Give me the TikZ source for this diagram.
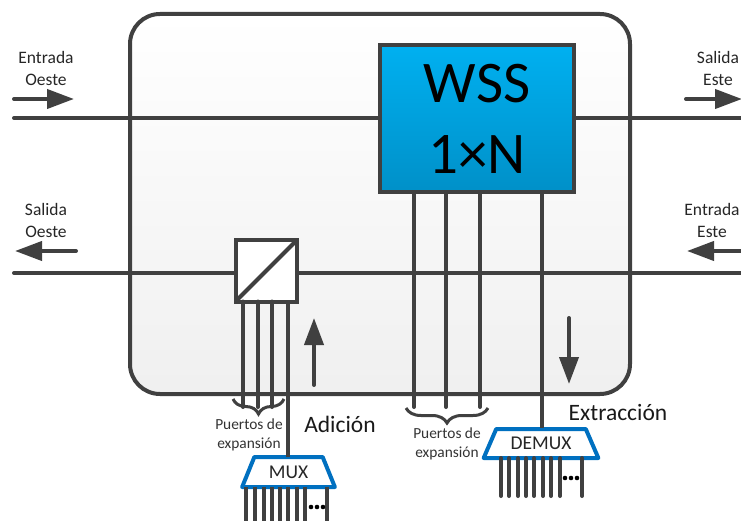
\documentclass[tikz,border=0pt]{standalone}
\usepackage{fontspec}
\setmainfont{Carlito}
\usepackage{tikz}
\usetikzlibrary{arrows.meta,positioning,shapes.geometric,decorations.pathreplacing,shadows}
\definecolor{mygray}{RGB}{64,64,64}
\definecolor{myblue}{RGB}{0,112,192}
\definecolor{myWssTop}{RGB}{0,176,240}
\definecolor{myWssBot}{RGB}{0,144,200}
\tikzstyle{line}=[draw=mygray,line width=4pt]
\tikzstyle{thinline}=[draw=mygray,line width=4pt]
\tikzstyle{nodo}=[draw=mygray,line width=4pt,rounded corners=30pt,top color=white,bottom color=black!6,minimum width=500pt,minimum height=380pt,inner sep=0pt,outer sep=0pt]
\tikzstyle{wssbox}=[draw=mygray,line width=4pt,top color=myWssTop,bottom color=myWssBot,minimum width=194pt,minimum height=147pt,inner sep=0pt,outer sep=0pt,align=center,font=\fontsize{59}{71}\selectfont,drop shadow={opacity=.2,shadow xshift=2pt,shadow yshift=-2pt}]
\tikzstyle{splitbox}=[draw=mygray,line width=4pt,fill=white,minimum size=61pt,inner sep=0pt,outer sep=0pt]
\tikzstyle{muxbox}=[draw=myblue,line width=4pt,line join=round,fill=white,trapezium,trapezium stretches,inner sep=0pt,outer sep=0pt,text=black!85,font=\fontsize{19.5}{22}\selectfont]
\tikzstyle{flow}=[draw=mygray,line width=4pt,line cap=round,-{Triangle[length=27pt,width=19pt,fill=mygray]}]
\tikzstyle{brace}=[draw=mygray,line width=3pt,decorate,decoration={brace,amplitude=15pt}]
\tikzstyle{small}=[text=black!80,align=center,font=\fontsize{15.4}{19}\selectfont,inner sep=0pt]
\tikzstyle{side}=[text=black!85,align=center,font=\fontsize{17.5}{22}\selectfont,inner sep=0pt]
\tikzstyle{big}=[text=black!90,inner sep=0pt,font=\fontsize{23.5}{25}\selectfont]
\tikzstyle{dot}=[fill=black,circle,minimum size=4.6pt,inner sep=0pt]

\begin{document}
\begin{tikzpicture}[x=1pt,y=-1pt]
\clip (0,0) rectangle (741,521);
\node [nodo] (node) at (380,204) {};
\node [wssbox] (wss) at (477,119) {WSS\\1×N};
\node [splitbox] (split) at (266,271) {};
\node [muxbox,trapezium left angle=61,trapezium right angle=61,minimum width=93pt,minimum height=30pt] (mux) at (288.5,472) {MUX};
\node [muxbox,trapezium left angle=56,trapezium right angle=56,minimum width=115pt,minimum height=29pt] (demux) at (541,443.5) {DEMUX};
% free ends
\coordinate (oeste1) at (14,118);
\coordinate (este1) at (741,118);
\coordinate (oeste2) at (14,273);
\coordinate (este2) at (741,273);
% main lines
\draw [line,line cap=round] (oeste1) -- (oeste1 -| wss.west);
\draw [line] (este1 -| wss.east) -- (este1);
\draw [line,line cap=round] (oeste2) -- (oeste2 -| split.west);
\draw [line] (este2 -| split.east) -- (este2);
\draw [line] (split.south west) -- (split.north east);
% add and drop ports
\foreach \x in {243,258,272} {
  \coordinate (p\x) at (\x,407);
  \draw [thinline,line cap=round] (split.south -| p\x) -- (p\x);
}
\coordinate (padd) at (288,457);
\draw [thinline] (split.south -| padd) -- (padd);
\foreach \x in {414,446,480} {
  \coordinate (w\x) at (\x,407);
  \draw [thinline,line cap=round] (wss.south -| w\x) -- (w\x);
}
\coordinate (wdrop) at (542,428);
\draw [thinline] (wss.south -| wdrop) -- (wdrop);
% client ports
\foreach \x in {246,255,264,272,280,288,297,305,327} {
  \coordinate (m\x) at (\x,521);
  \draw [thinline] (mux.south -| m\x) -- (m\x);
}
\foreach \x in {501,509,518,526,534,543,551,560,582} {
  \coordinate (d\x) at (\x,496);
  \draw [thinline,line cap=round] (demux.south -| d\x) -- (d\x);
}
\foreach \x in {311,317,323} {
  \node [dot] (mdot\x) at (\x,507) {};
}
\foreach \x in {565,571,577} {
  \node [dot] (ddot\x) at (\x,478) {};
}
% braces
\coordinate (b1a) at (233,399);
\coordinate (b1b) at (284,399);
\coordinate (b2a) at (406,408);
\coordinate (b2b) at (488,408);
\draw [brace] (b1b) -- (b1a);
\draw [brace] (b2b) -- (b2a);
% arrows
\coordinate (a1) at (14,99);
\coordinate (a2) at (74,99);
\coordinate (a3) at (76,251);
\coordinate (a4) at (15,251);
\coordinate (a5) at (686,99);
\coordinate (a6) at (742,99);
\coordinate (a7) at (742,251);
\coordinate (a8) at (687,251);
\coordinate (a9) at (314,385);
\coordinate (a10) at (314,318);
\coordinate (a11) at (569,318);
\coordinate (a12) at (569,384);
\draw [flow] (a1) -- (a2);
\draw [flow] (a3) -- (a4);
\draw [flow] (a5) -- (a6);
\draw [flow] (a7) -- (a8);
\draw [flow] (a9) -- (a10);
\draw [flow] (a11) -- (a12);
% labels
\node [side] (eo) at (46,68) {Entrada\\Oeste};
\node [side] (so) at (46,220) {Salida\\Oeste};
\node [side] (se) at (718,68) {Salida\\Este};
\node [side] (ee) at (712,220) {Entrada\\Este};
\node [small] (pe1) at (249,434.5) {Puertos de\\expansión};
\node [small] (pe2) at (447,443.5) {Puertos de\\expansión};
\node [big] (add) at (340,424) {Adición};
\node [big] (drop) at (618,412) {Extracción};
\end{tikzpicture}
\end{document}
